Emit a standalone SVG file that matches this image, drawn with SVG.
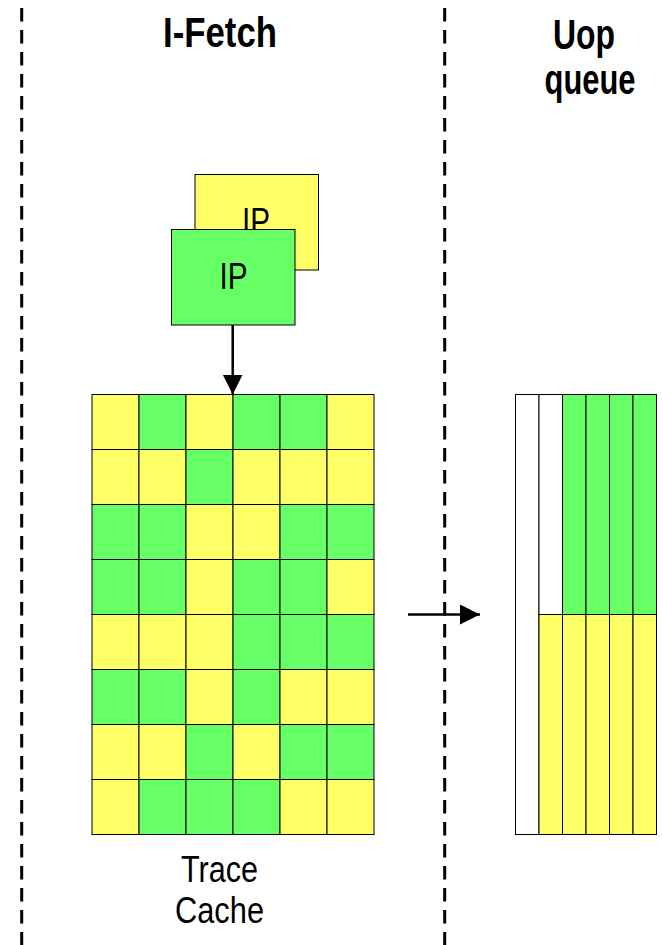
<svg xmlns="http://www.w3.org/2000/svg" width="662" height="945" viewBox="0 0 662 945">
<style>
.bg{fill:#ffffff}
.y{fill:#FFFF66;stroke:#000;stroke-width:1}
.g{fill:#66FF66;stroke:#000;stroke-width:1}
.w{fill:#ffffff;stroke:#000;stroke-width:1}
.dash{stroke:#000;stroke-width:3;stroke-dasharray:13.5 8.5;fill:none}
.conn{stroke:#000;stroke-width:2.5;fill:none}
.t{font-family:"Liberation Sans Narrow","Liberation Sans",Arial,sans-serif;fill:#000;text-anchor:middle}
.b{font-weight:bold;font-size:42px}
.r{font-size:37px}
</style>
<defs>
<marker id="ah" markerUnits="userSpaceOnUse" markerWidth="22" markerHeight="22" refX="20" refY="10" orient="auto">
<path d="M0,0 L20,10 L0,20 Z" fill="#000"/>
</marker>
</defs>
<rect class="bg" x="0" y="0" width="662" height="945"/>
<g id="dividers">
<line class="dash" x1="21.7" y1="-14" x2="21.7" y2="945"/>
<line class="dash" x1="444.7" y1="-14" x2="444.7" y2="945"/>
</g>
<g id="title-ifetch"><text class="t b" x="220" y="46.7" textLength="114" lengthAdjust="spacingAndGlyphs">I-Fetch</text></g>
<g id="title-uop">
<text class="t b" x="584" y="49" textLength="62" lengthAdjust="spacingAndGlyphs">Uop</text>
<text class="t b" x="590" y="94" textLength="91" lengthAdjust="spacingAndGlyphs">queue</text>
</g>
<g id="ip-back">
<rect class="y" x="195" y="174.5" width="123.5" height="95.5"/>
<text class="t r" x="256" y="233.5" textLength="28" lengthAdjust="spacingAndGlyphs">IP</text>
</g>
<g id="ip-front">
<rect class="g" x="171.5" y="229.5" width="123.5" height="95.5"/>
<text class="t r" x="233.5" y="288.5" textLength="28" lengthAdjust="spacingAndGlyphs">IP</text>
</g>
<g id="trace-cache">
<rect class="y" x="92" y="394.5" width="47" height="55"/><rect class="g" x="139" y="394.5" width="47" height="55"/><rect class="y" x="186" y="394.5" width="47" height="55"/><rect class="g" x="233" y="394.5" width="47" height="55"/><rect class="g" x="280" y="394.5" width="47" height="55"/><rect class="y" x="327" y="394.5" width="47" height="55"/>
<rect class="y" x="92" y="449.5" width="47" height="55"/><rect class="y" x="139" y="449.5" width="47" height="55"/><rect class="g" x="186" y="449.5" width="47" height="55"/><rect class="y" x="233" y="449.5" width="47" height="55"/><rect class="y" x="280" y="449.5" width="47" height="55"/><rect class="y" x="327" y="449.5" width="47" height="55"/>
<rect class="g" x="92" y="504.5" width="47" height="55"/><rect class="g" x="139" y="504.5" width="47" height="55"/><rect class="y" x="186" y="504.5" width="47" height="55"/><rect class="y" x="233" y="504.5" width="47" height="55"/><rect class="g" x="280" y="504.5" width="47" height="55"/><rect class="g" x="327" y="504.5" width="47" height="55"/>
<rect class="g" x="92" y="559.5" width="47" height="55"/><rect class="g" x="139" y="559.5" width="47" height="55"/><rect class="y" x="186" y="559.5" width="47" height="55"/><rect class="g" x="233" y="559.5" width="47" height="55"/><rect class="g" x="280" y="559.5" width="47" height="55"/><rect class="y" x="327" y="559.5" width="47" height="55"/>
<rect class="y" x="92" y="614.5" width="47" height="55"/><rect class="y" x="139" y="614.5" width="47" height="55"/><rect class="y" x="186" y="614.5" width="47" height="55"/><rect class="g" x="233" y="614.5" width="47" height="55"/><rect class="g" x="280" y="614.5" width="47" height="55"/><rect class="g" x="327" y="614.5" width="47" height="55"/>
<rect class="g" x="92" y="669.5" width="47" height="55"/><rect class="g" x="139" y="669.5" width="47" height="55"/><rect class="y" x="186" y="669.5" width="47" height="55"/><rect class="g" x="233" y="669.5" width="47" height="55"/><rect class="y" x="280" y="669.5" width="47" height="55"/><rect class="y" x="327" y="669.5" width="47" height="55"/>
<rect class="y" x="92" y="724.5" width="47" height="55"/><rect class="y" x="139" y="724.5" width="47" height="55"/><rect class="g" x="186" y="724.5" width="47" height="55"/><rect class="y" x="233" y="724.5" width="47" height="55"/><rect class="g" x="280" y="724.5" width="47" height="55"/><rect class="g" x="327" y="724.5" width="47" height="55"/>
<rect class="y" x="92" y="779.5" width="47" height="55"/><rect class="g" x="139" y="779.5" width="47" height="55"/><rect class="g" x="186" y="779.5" width="47" height="55"/><rect class="g" x="233" y="779.5" width="47" height="55"/><rect class="y" x="280" y="779.5" width="47" height="55"/><rect class="y" x="327" y="779.5" width="47" height="55"/>
<text class="t r" x="219.5" y="881.7" textLength="77" lengthAdjust="spacingAndGlyphs">Trace</text>
<text class="t r" x="219.5" y="923.3" textLength="89" lengthAdjust="spacingAndGlyphs">Cache</text>
</g>
<g id="uop-queue">
<rect class="w" x="515.5" y="394.5" width="23.5" height="440"/>
<rect class="w" x="539" y="394.5" width="23.5" height="220"/>
<rect class="y" x="539" y="614.5" width="23.5" height="220"/>
<rect class="g" x="562.5" y="394.5" width="23.5" height="220"/><rect class="y" x="562.5" y="614.5" width="23.5" height="220"/>
<rect class="g" x="586" y="394.5" width="23.5" height="220"/><rect class="y" x="586" y="614.5" width="23.5" height="220"/>
<rect class="g" x="609.5" y="394.5" width="23.5" height="220"/><rect class="y" x="609.5" y="614.5" width="23.5" height="220"/>
<rect class="g" x="633" y="394.5" width="23.5" height="220"/><rect class="y" x="633" y="614.5" width="23.5" height="220"/>
</g>
<g id="connectors">
<line class="conn" x1="232.7" y1="325" x2="232.7" y2="394.5" marker-end="url(#ah)"/>
<line class="conn" x1="408" y1="614.5" x2="480" y2="614.5" marker-end="url(#ah)"/>
</g>
</svg>
